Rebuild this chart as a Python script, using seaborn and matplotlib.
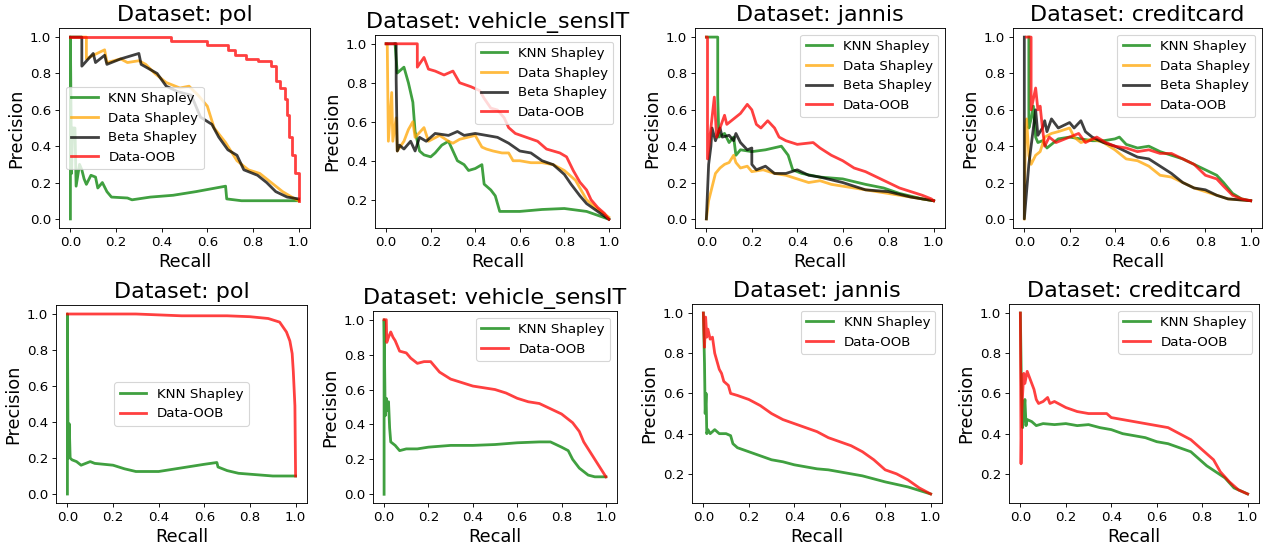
import numpy as np
import pandas as pd
import matplotlib
matplotlib.use("Agg")
import matplotlib.pyplot as plt
import seaborn as sns

# ---------------- data (recall / precision) ----------------
titles_top = ["Dataset: pol", "Dataset: vehicle_sensIT", "Dataset: jannis", "Dataset: creditcard"]
titles_bottom = ["Dataset: pol", "Dataset: vehicle_sensIT", "Dataset: jannis", "Dataset: creditcard"]
methods = ["KNN Shapley", "Data Shapley", "Beta Shapley", "Data-OOB"]
xticks = [0.0, 0.2, 0.4, 0.6, 0.8, 1.0]

# ---- top row: pol ----
pol_knn_r = [0, 0, 0.005, 0.01, 0.02, 0.025, 0.04, 0.05, 0.06, 0.07, 0.09, 0.11, 0.12, 0.14, 0.16, 0.18, 0.25, 0.27, 0.35, 0.45, 0.55, 0.68, 0.685, 0.75, 1.0]
pol_knn_p = [0.0, 1.0, 0.25, 0.5, 0.5, 0.18, 0.30, 0.27, 0.22, 0.19, 0.24, 0.23, 0.17, 0.20, 0.15, 0.12, 0.115, 0.105, 0.12, 0.13, 0.15, 0.18, 0.11, 0.10, 0.10]
pol_ds_r = [0, 0.07, 0.07, 0.10, 0.15, 0.16, 0.22, 0.25, 0.30, 0.33, 0.37, 0.42, 0.48, 0.52, 0.56, 0.60, 0.63, 0.68, 0.73, 0.78, 0.83, 0.88, 0.93, 0.97, 1.0]
pol_ds_p = [1.0, 1.0, 0.88, 0.90, 0.93, 0.86, 0.88, 0.86, 0.87, 0.85, 0.80, 0.75, 0.72, 0.73, 0.68, 0.62, 0.50, 0.42, 0.32, 0.27, 0.25, 0.20, 0.15, 0.12, 0.10]
pol_bs_r = [0, 0.05, 0.05, 0.10, 0.11, 0.15, 0.16, 0.22, 0.30, 0.31, 0.38, 0.42, 0.47, 0.53, 0.57, 0.62, 0.65, 0.69, 0.73, 0.76, 0.82, 0.86, 0.90, 0.95, 1.0]
pol_bs_p = [1.0, 1.0, 0.84, 0.91, 0.86, 0.90, 0.85, 0.88, 0.91, 0.85, 0.80, 0.73, 0.70, 0.68, 0.56, 0.52, 0.45, 0.38, 0.35, 0.27, 0.24, 0.20, 0.15, 0.12, 0.11]
pol_oob_r = [0, 0.44, 0.44, 0.60, 0.60, 0.69, 0.69, 0.72, 0.72, 0.77, 0.77, 0.82, 0.82, 0.88, 0.88, 0.90, 0.90, 0.92, 0.92, 0.94, 0.94, 0.95, 0.95, 0.96, 0.96, 0.97, 0.97, 0.985, 0.985, 1.0, 1.0]
pol_oob_p = [1.0, 1.0, 0.98, 0.98, 0.955, 0.955, 0.93, 0.93, 0.90, 0.90, 0.88, 0.88, 0.87, 0.87, 0.84, 0.84, 0.76, 0.76, 0.72, 0.72, 0.66, 0.66, 0.57, 0.57, 0.45, 0.45, 0.35, 0.35, 0.25, 0.25, 0.10]

# ---- top row: vehicle_sensIT ----
veh_knn_r = [0.04, 0.05, 0.08, 0.10, 0.11, 0.12, 0.13, 0.15, 0.17, 0.20, 0.22, 0.25, 0.28, 0.30, 0.32, 0.35, 0.37, 0.40, 0.43, 0.44, 0.47, 0.49, 0.50, 0.51, 0.55, 0.60, 0.70, 0.80, 0.90, 1.0]
veh_knn_p = [1.0, 0.85, 0.88, 0.80, 0.75, 0.70, 0.55, 0.45, 0.43, 0.42, 0.44, 0.48, 0.50, 0.45, 0.40, 0.38, 0.35, 0.36, 0.38, 0.28, 0.25, 0.22, 0.18, 0.14, 0.14, 0.14, 0.15, 0.155, 0.14, 0.10]
veh_ds_r = [0, 0.005, 0.01, 0.025, 0.03, 0.045, 0.05, 0.08, 0.10, 0.12, 0.13, 0.17, 0.19, 0.24, 0.28, 0.30, 0.33, 0.40, 0.43, 0.45, 0.48, 0.52, 0.55, 0.57, 0.60, 0.65, 0.70, 0.75, 0.80, 0.85, 0.88, 0.90, 0.95, 1.0]
veh_ds_p = [1.0, 1.0, 0.50, 0.75, 0.50, 0.62, 0.45, 0.50, 0.56, 0.60, 0.52, 0.57, 0.50, 0.53, 0.50, 0.49, 0.51, 0.53, 0.47, 0.46, 0.45, 0.44, 0.44, 0.40, 0.40, 0.39, 0.39, 0.38, 0.35, 0.30, 0.24, 0.20, 0.15, 0.11]
veh_bs_r = [0, 0.045, 0.045, 0.05, 0.06, 0.08, 0.11, 0.13, 0.15, 0.18, 0.22, 0.28, 0.32, 0.35, 0.40, 0.45, 0.50, 0.55, 0.60, 0.65, 0.70, 0.75, 0.80, 0.83, 0.87, 0.90, 0.95, 1.0]
veh_bs_p = [1.0, 1.0, 0.82, 0.45, 0.48, 0.46, 0.50, 0.45, 0.52, 0.50, 0.54, 0.53, 0.55, 0.53, 0.54, 0.53, 0.52, 0.49, 0.45, 0.44, 0.40, 0.38, 0.33, 0.28, 0.22, 0.18, 0.14, 0.10]
veh_oob_r = [0, 0.14, 0.14, 0.17, 0.19, 0.22, 0.26, 0.30, 0.33, 0.38, 0.42, 0.44, 0.47, 0.50, 0.53, 0.55, 0.58, 0.63, 0.68, 0.72, 0.78, 0.81, 0.84, 0.87, 0.90, 0.92, 0.95, 0.98, 1.0]
veh_oob_p = [1.0, 1.0, 0.88, 0.93, 0.87, 0.86, 0.84, 0.86, 0.80, 0.78, 0.76, 0.72, 0.67, 0.66, 0.62, 0.57, 0.54, 0.52, 0.50, 0.46, 0.44, 0.42, 0.35, 0.29, 0.25, 0.20, 0.16, 0.13, 0.10]

# ---- top row: jannis ----
jan_knn_r = [0, 0.05, 0.05, 0.055, 0.08, 0.10, 0.12, 0.13, 0.15, 0.20, 0.26, 0.33, 0.36, 0.38, 0.42, 0.50, 0.60, 0.70, 0.78, 0.85, 0.95, 1.0]
jan_knn_p = [1.0, 1.0, 0.67, 0.45, 0.47, 0.42, 0.45, 0.35, 0.38, 0.37, 0.38, 0.40, 0.35, 0.27, 0.25, 0.23, 0.22, 0.19, 0.17, 0.14, 0.11, 0.10]
jan_ds_r = [0, 0.01, 0.02, 0.04, 0.06, 0.08, 0.10, 0.12, 0.13, 0.15, 0.18, 0.20, 0.25, 0.30, 0.35, 0.40, 0.45, 0.50, 0.55, 0.60, 0.70, 0.80, 0.90, 1.0]
jan_ds_p = [0.0, 0.10, 0.15, 0.25, 0.28, 0.30, 0.31, 0.35, 0.31, 0.28, 0.29, 0.26, 0.27, 0.25, 0.24, 0.22, 0.20, 0.21, 0.19, 0.18, 0.16, 0.14, 0.12, 0.10]
jan_bs_r = [0, 0.01, 0.02, 0.025, 0.04, 0.06, 0.07, 0.10, 0.12, 0.13, 0.15, 0.18, 0.20, 0.20, 0.22, 0.26, 0.30, 0.35, 0.40, 0.45, 0.50, 0.60, 0.70, 0.80, 0.90, 1.0]
jan_bs_p = [0.0, 0.30, 0.40, 0.50, 0.43, 0.50, 0.45, 0.46, 0.43, 0.47, 0.42, 0.38, 0.39, 0.30, 0.27, 0.29, 0.25, 0.25, 0.27, 0.24, 0.23, 0.20, 0.16, 0.15, 0.12, 0.10]
jan_oob_r = [0, 0.005, 0.005, 0.02, 0.035, 0.045, 0.06, 0.08, 0.09, 0.12, 0.15, 0.18, 0.20, 0.22, 0.24, 0.27, 0.30, 0.32, 0.35, 0.40, 0.47, 0.50, 0.55, 0.60, 0.65, 0.70, 0.75, 0.80, 0.85, 0.90, 0.95, 0.99, 1.0]
jan_oob_p = [1.0, 1.0, 0.33, 0.50, 0.67, 0.45, 0.50, 0.57, 0.52, 0.55, 0.58, 0.63, 0.60, 0.52, 0.50, 0.54, 0.50, 0.45, 0.43, 0.41, 0.42, 0.39, 0.35, 0.32, 0.28, 0.26, 0.23, 0.20, 0.17, 0.15, 0.13, 0.11, 0.10]

# ---- top row: creditcard ----
cc_knn_r = [0.02, 0.02, 0.03, 0.04, 0.05, 0.06, 0.08, 0.10, 0.13, 0.15, 0.20, 0.25, 0.30, 0.35, 0.40, 0.42, 0.45, 0.50, 0.55, 0.60, 0.65, 0.70, 0.75, 0.80, 0.85, 0.88, 0.92, 0.96, 1.0]
cc_knn_p = [1.0, 0.50, 0.55, 0.62, 0.45, 0.42, 0.43, 0.39, 0.42, 0.44, 0.45, 0.44, 0.43, 0.43, 0.44, 0.45, 0.41, 0.39, 0.40, 0.37, 0.35, 0.33, 0.30, 0.27, 0.24, 0.20, 0.14, 0.11, 0.10]
cc_ds_r = [0, 0.005, 0.01, 0.02, 0.03, 0.05, 0.07, 0.09, 0.12, 0.15, 0.20, 0.22, 0.25, 0.30, 0.35, 0.40, 0.45, 0.50, 0.55, 0.60, 0.65, 0.70, 0.75, 0.80, 0.85, 0.90, 1.0]
cc_ds_p = [0.0, 0.50, 0.55, 0.35, 0.30, 0.35, 0.37, 0.45, 0.47, 0.48, 0.50, 0.45, 0.42, 0.44, 0.42, 0.38, 0.33, 0.32, 0.29, 0.24, 0.23, 0.20, 0.17, 0.15, 0.13, 0.11, 0.10]
cc_bs_r = [0, 0, 0.02, 0.04, 0.05, 0.06, 0.08, 0.09, 0.10, 0.12, 0.15, 0.20, 0.22, 0.25, 0.27, 0.30, 0.35, 0.40, 0.45, 0.50, 0.55, 0.60, 0.65, 0.70, 0.75, 0.80, 0.85, 0.90, 1.0]
cc_bs_p = [1.0, 0.0, 0.30, 0.50, 0.60, 0.46, 0.50, 0.54, 0.48, 0.55, 0.50, 0.53, 0.50, 0.54, 0.48, 0.45, 0.42, 0.40, 0.37, 0.34, 0.33, 0.29, 0.25, 0.20, 0.17, 0.16, 0.13, 0.11, 0.10]
cc_oob_r = [0.01, 0.03, 0.03, 0.05, 0.06, 0.07, 0.08, 0.09, 0.11, 0.14, 0.20, 0.24, 0.27, 0.32, 0.36, 0.40, 0.45, 0.50, 0.55, 0.60, 0.65, 0.70, 0.75, 0.80, 0.85, 0.88, 0.92, 0.96, 1.0]
cc_oob_p = [1.0, 1.0, 0.60, 0.72, 0.60, 0.62, 0.50, 0.40, 0.45, 0.42, 0.45, 0.47, 0.42, 0.45, 0.42, 0.40, 0.39, 0.37, 0.38, 0.36, 0.36, 0.33, 0.30, 0.24, 0.22, 0.18, 0.13, 0.11, 0.10]

# ---- bottom row: pol ----
bpol_knn_r = [0, 0, 0.003, 0.008, 0.012, 0.02, 0.04, 0.06, 0.08, 0.10, 0.12, 0.20, 0.25, 0.30, 0.40, 0.50, 0.60, 0.655, 0.66, 0.70, 0.75, 0.80, 0.90, 1.0]
bpol_knn_p = [0.0, 1.0, 0.20, 0.39, 0.20, 0.19, 0.18, 0.16, 0.17, 0.18, 0.17, 0.16, 0.14, 0.125, 0.125, 0.145, 0.165, 0.175, 0.15, 0.13, 0.115, 0.11, 0.10, 0.10]
bpol_oob_r = [0, 0.30, 0.50, 0.70, 0.80, 0.88, 0.93, 0.96, 0.975, 0.985, 0.99, 0.997, 1.0]
bpol_oob_p = [1.0, 1.0, 0.99, 0.99, 0.985, 0.975, 0.955, 0.90, 0.85, 0.78, 0.68, 0.49, 0.10]

# ---- bottom row: vehicle_sensIT ----
bveh_knn_r = [0, 0, 0.005, 0.01, 0.015, 0.02, 0.025, 0.03, 0.05, 0.07, 0.10, 0.15, 0.20, 0.30, 0.40, 0.50, 0.60, 0.70, 0.75, 0.80, 0.83, 0.85, 0.88, 0.92, 0.95, 1.0]
bveh_knn_p = [0.0, 1.0, 0.45, 0.55, 0.48, 0.53, 0.38, 0.30, 0.28, 0.25, 0.26, 0.26, 0.27, 0.28, 0.28, 0.285, 0.295, 0.30, 0.30, 0.27, 0.25, 0.20, 0.15, 0.11, 0.10, 0.10]
bveh_oob_r = [0, 0.01, 0.012, 0.02, 0.03, 0.04, 0.05, 0.07, 0.10, 0.12, 0.15, 0.18, 0.21, 0.25, 0.30, 0.35, 0.40, 0.45, 0.50, 0.55, 0.60, 0.65, 0.70, 0.75, 0.80, 0.85, 0.88, 0.90, 0.93, 0.96, 1.0]
bveh_oob_p = [1.0, 1.0, 0.87, 0.90, 0.93, 0.90, 0.88, 0.82, 0.81, 0.78, 0.75, 0.76, 0.76, 0.70, 0.66, 0.64, 0.62, 0.61, 0.60, 0.58, 0.55, 0.53, 0.52, 0.49, 0.46, 0.41, 0.36, 0.30, 0.24, 0.18, 0.10]

# ---- bottom row: jannis ----
bjan_knn_r = [0, 0.005, 0.008, 0.012, 0.015, 0.02, 0.03, 0.05, 0.07, 0.10, 0.12, 0.13, 0.15, 0.20, 0.25, 0.30, 0.35, 0.40, 0.45, 0.50, 0.55, 0.60, 0.70, 0.80, 0.90, 1.0]
bjan_knn_p = [1.0, 0.75, 0.50, 0.60, 0.40, 0.42, 0.40, 0.42, 0.40, 0.40, 0.39, 0.35, 0.33, 0.31, 0.29, 0.27, 0.26, 0.245, 0.235, 0.225, 0.22, 0.21, 0.19, 0.16, 0.135, 0.10]
bjan_oob_r = [0, 0.005, 0.01, 0.015, 0.02, 0.03, 0.04, 0.05, 0.07, 0.08, 0.09, 0.11, 0.12, 0.15, 0.20, 0.25, 0.30, 0.35, 0.40, 0.45, 0.50, 0.55, 0.60, 0.65, 0.70, 0.75, 0.80, 0.85, 0.90, 0.95, 1.0]
bjan_oob_p = [1.0, 0.83, 0.98, 0.88, 0.92, 0.87, 0.88, 0.80, 0.72, 0.70, 0.66, 0.64, 0.60, 0.59, 0.57, 0.54, 0.50, 0.47, 0.45, 0.43, 0.41, 0.38, 0.36, 0.34, 0.31, 0.27, 0.22, 0.20, 0.17, 0.13, 0.10]

# ---- bottom row: creditcard ----
bcc_knn_r = [0, 0.005, 0.01, 0.015, 0.02, 0.025, 0.03, 0.05, 0.07, 0.10, 0.15, 0.20, 0.25, 0.30, 0.35, 0.40, 0.45, 0.50, 0.55, 0.60, 0.65, 0.70, 0.75, 0.78, 0.82, 0.86, 0.90, 0.94, 1.0]
bcc_knn_p = [1.0, 0.60, 0.43, 0.50, 0.57, 0.44, 0.47, 0.46, 0.44, 0.45, 0.445, 0.45, 0.44, 0.445, 0.43, 0.42, 0.40, 0.39, 0.38, 0.36, 0.35, 0.33, 0.31, 0.28, 0.24, 0.21, 0.18, 0.13, 0.10]
bcc_oob_r = [0, 0.003, 0.006, 0.01, 0.015, 0.02, 0.03, 0.04, 0.05, 0.06, 0.07, 0.08, 0.10, 0.12, 0.13, 0.15, 0.20, 0.25, 0.30, 0.35, 0.38, 0.40, 0.45, 0.50, 0.55, 0.60, 0.65, 0.70, 0.75, 0.80, 0.85, 0.88, 0.92, 0.96, 1.0]
bcc_oob_p = [1.0, 0.25, 0.50, 0.60, 0.70, 0.65, 0.71, 0.68, 0.65, 0.62, 0.57, 0.55, 0.56, 0.58, 0.55, 0.56, 0.53, 0.51, 0.50, 0.50, 0.50, 0.48, 0.47, 0.46, 0.45, 0.44, 0.43, 0.40, 0.37, 0.32, 0.27, 0.21, 0.16, 0.12, 0.10]

# ---------------- drawing ----------------
colors = {"KNN Shapley": "green", "Data Shapley": "orange", "Beta Shapley": "black", "Data-OOB": "red"}

top_curves = [
    [(pol_knn_r, pol_knn_p), (pol_ds_r, pol_ds_p), (pol_bs_r, pol_bs_p), (pol_oob_r, pol_oob_p)],
    [(veh_knn_r, veh_knn_p), (veh_ds_r, veh_ds_p), (veh_bs_r, veh_bs_p), (veh_oob_r, veh_oob_p)],
    [(jan_knn_r, jan_knn_p), (jan_ds_r, jan_ds_p), (jan_bs_r, jan_bs_p), (jan_oob_r, jan_oob_p)],
    [(cc_knn_r, cc_knn_p), (cc_ds_r, cc_ds_p), (cc_bs_r, cc_bs_p), (cc_oob_r, cc_oob_p)],
]
bottom_curves = [
    [(bpol_knn_r, bpol_knn_p), (bpol_oob_r, bpol_oob_p)],
    [(bveh_knn_r, bveh_knn_p), (bveh_oob_r, bveh_oob_p)],
    [(bjan_knn_r, bjan_knn_p), (bjan_oob_r, bjan_oob_p)],
    [(bcc_knn_r, bcc_knn_p), (bcc_oob_r, bcc_oob_p)],
]
bottom_methods = ["KNN Shapley", "Data-OOB"]

W, H = 1270, 544
DPI = 80
fig = plt.figure(figsize=(W / DPI, H / DPI), dpi=DPI)

# (left, right, top, bottom) in pixels
top_boxes = [(59, 310, 28, 228), (375, 620, 35, 228), (695, 945, 28, 228), (1013, 1262, 28, 228)]
bot_boxes = [(56, 307, 305, 503), (373, 617, 311, 503), (692, 942, 304, 503), (1009, 1259, 304, 503)]
top_locs = ["center left", "upper right", "upper right", "upper right"]
bot_locs = ["center", "upper right", "upper right", "upper right"]


def make_ax(box):
    l, r, t, b = box
    return fig.add_axes([l / W, 1 - b / H, (r - l) / W, (b - t) / H])


def draw(ax, curves, names, title, loc):
    for (rx, py), name in zip(curves, names):
        df = pd.DataFrame({"Recall": rx, "Precision": py})
        sns.lineplot(data=df, x="Recall", y="Precision", ax=ax, sort=False, estimator=None,
                     color=colors[name], alpha=0.75, linewidth=2.5, label=name)
    ax.set_title(title, fontsize=20)
    ax.set_xlabel("Recall", fontsize=16)
    ax.set_ylabel("Precision", fontsize=16)
    ax.tick_params(labelsize=12)
    ax.set_xticks(xticks)
    ax.legend(loc=loc, fontsize=12)


for i in range(4):
    ax = make_ax(top_boxes[i])
    draw(ax, top_curves[i], methods, titles_top[i], top_locs[i])
for i in range(4):
    ax = make_ax(bot_boxes[i])
    draw(ax, bottom_curves[i], bottom_methods, titles_bottom[i], bot_locs[i])

fig.savefig("out.png", dpi=DPI)
